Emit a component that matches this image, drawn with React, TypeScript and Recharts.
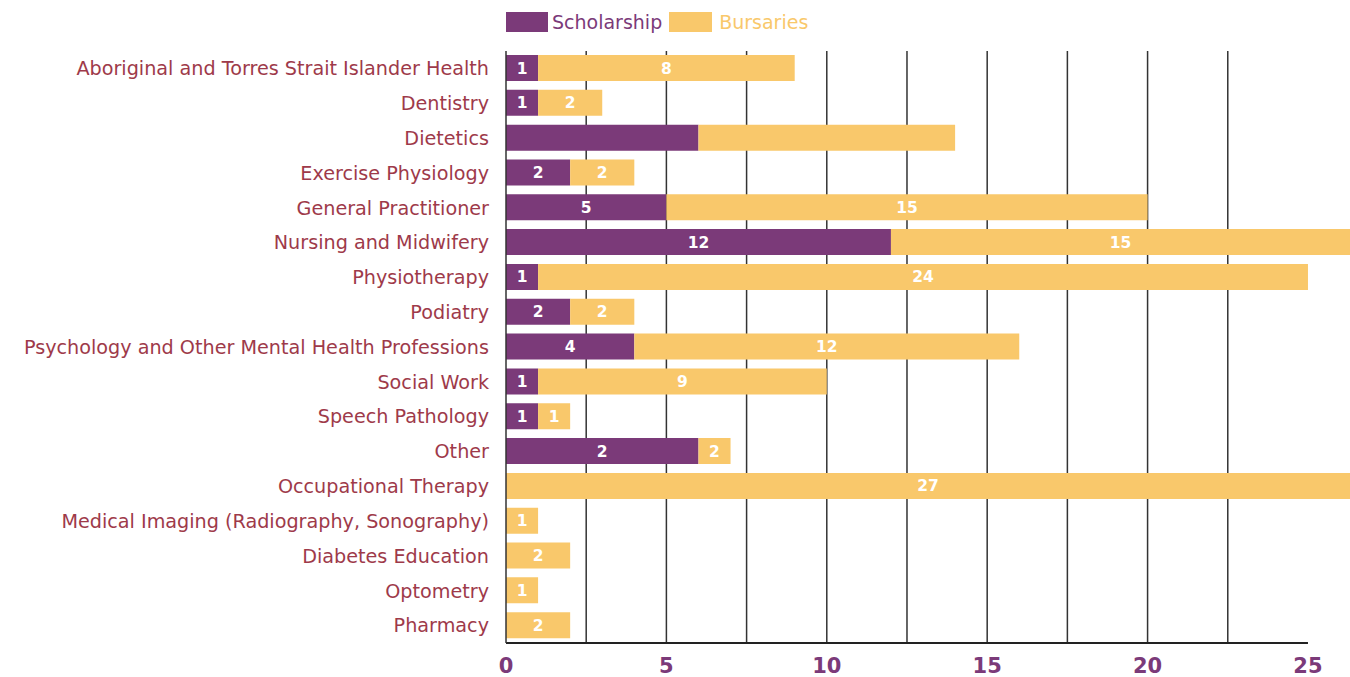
import React from "react";
import {
  Bar,
  BarChart,
  CartesianGrid,
  LabelList,
  ReferenceLine,
  XAxis,
  YAxis
} from "recharts";

const categories = [
  "Aboriginal and Torres Strait Islander Health",
  "Dentistry",
  "Dietetics",
  "Exercise Physiology",
  "General Practitioner",
  "Nursing and Midwifery",
  "Physiotherapy",
  "Podiatry",
  "Psychology and Other Mental Health Professions",
  "Social Work",
  "Speech Pathology",
  "Other",
  "Occupational Therapy",
  "Medical Imaging (Radiography, Sonography)",
  "Diabetes Education",
  "Optometry",
  "Pharmacy"
];

const scholarship = [1, 1, 6, 2, 5, 12, 1, 2, 4, 1, 1, 6, 0, 0, 0, 0, 0];
const bursaries = [8, 2, 8, 2, 15, 15, 24, 2, 12, 9, 1, 1, 27, 1, 2, 1, 2];

// printed labels (the source prints these, not always the bar length)
const scholarshipLabels = ["1", "1", "", "2", "5", "12", "1", "2", "4", "1", "1", "2", "", "", "", "", ""];
const bursaryLabels = ["8", "2", "", "2", "15", "15", "24", "2", "12", "9", "1", "2", "27", "1", "2", "1", "2"];

const xTicks = [0, 5, 10, 15, 20, 25];
const gridValues = [2.5, 5, 7.5, 10, 12.5, 15, 17.5, 20, 22.5];
const xMax = 26.31;

const purple = "#7b3a79";
const yellow = "#f9c86b";
const labelRed = "#9e3a4a";
const font = "'DejaVu Sans', sans-serif";

const data = categories.map((name, i) => ({
  name,
  scholarship: scholarship[i],
  bursaries: bursaries[i],
  sLabel: scholarshipLabels[i],
  bLabel: bursaryLabels[i]
}));

const barLabelStyle = {
  fill: "#ffffff",
  fontFamily: font,
  fontWeight: 700,
  fontSize: 15.5
};

export default function App() {
  return (
    <div style={{ position: "absolute", left: 0, top: 0, width: 1350, height: 677, background: "#fff" }}>
      <div
        style={{
          position: "absolute",
          left: 506,
          top: 11,
          display: "flex",
          alignItems: "center",
          fontFamily: font,
          fontSize: 19,
          zIndex: 2
        }}
      >
        <span style={{ width: 42, height: 20, background: purple, display: "inline-block" }} />
        <span style={{ color: purple, marginLeft: 4 }}>Scholarship</span>
        <span style={{ width: 43, height: 20, background: yellow, display: "inline-block", marginLeft: 7 }} />
        <span style={{ color: yellow, marginLeft: 7 }}>Bursaries</span>
      </div>
      <BarChart
        width={1350}
        height={677}
        data={data}
        layout="vertical"
        barSize={26}
        margin={{ top: 51, right: 0, bottom: 0, left: 0 }}
      >
        <CartesianGrid
          horizontal={false}
          stroke="#333"
          strokeWidth={1.5}
          verticalCoordinatesGenerator={({ offset }: any) =>
            gridValues.map((v) => offset.left + (v / xMax) * offset.width)
          }
        />
        <XAxis
          type="number"
          domain={[0, xMax]}
          ticks={xTicks}
          allowDataOverflow
          axisLine={false}
          tickLine={false}
          tickMargin={9}
          height={34}
          tick={{ fill: purple, fontFamily: font, fontWeight: 700, fontSize: 21 }}
        />
        <YAxis
          type="category"
          dataKey="name"
          width={506}
          axisLine={{ stroke: "#333", strokeWidth: 1.5 }}
          tickLine={false}
          tickSize={0}
          tickMargin={17}
          interval={0}
          tick={{ fill: labelRed, fontFamily: font, fontSize: 19.2 }}
        />
        <Bar dataKey="scholarship" stackId="a" fill={purple} isAnimationActive={false}>
          <LabelList dataKey="sLabel" position="center" style={barLabelStyle} />
        </Bar>
        <Bar dataKey="bursaries" stackId="a" fill={yellow} isAnimationActive={false}>
          <LabelList dataKey="bLabel" position="center" style={barLabelStyle} />
        </Bar>
        <ReferenceLine
          segment={[
            { x: 0, y: "Pharmacy" },
            { x: 25, y: "Pharmacy" }
          ]}
          position="end"
          stroke="#222"
          strokeWidth={2}
          ifOverflow="visible"
        />
      </BarChart>
    </div>
  );
}
